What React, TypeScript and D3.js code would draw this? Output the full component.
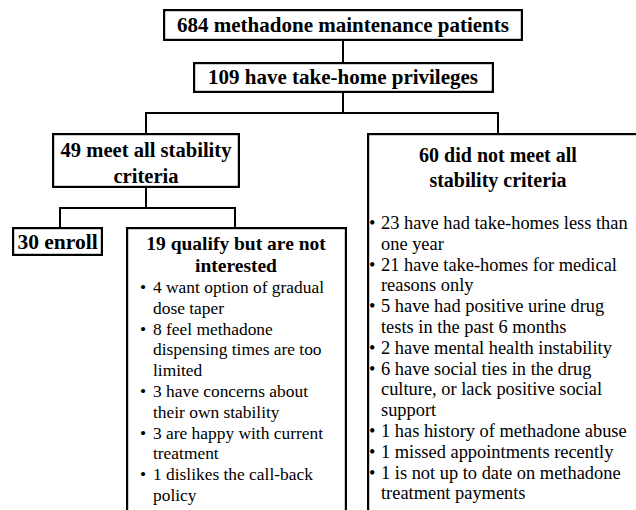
import React from "react";
import * as d3 from "d3";

const topTitle = "684 methadone maintenance patients";
const secondTitle = "109 have take-home privileges";
const meetTitle = ["49 meet all stability", "criteria"];
const enrollTitle = "30 enroll";
const notInterestedTitle = ["19 qualify but are not", "interested"];
const notMeetTitle = ["60 did not meet all", "stability criteria"];

const notInterestedItems: string[][] = [
  ["4 want option of gradual", "dose taper"],
  ["8 feel methadone", "dispensing times are too", "limited"],
  ["3 have concerns about", "their own stability"],
  ["3 are happy with current", "treatment"],
  ["1 dislikes the call-back", "policy"],
];

const notMeetItems: string[][] = [
  ["23 have had take-homes less than", "one year"],
  ["21 have take-homes for medical", "reasons only"],
  ["5 have had positive urine drug", "tests in the past 6 months"],
  ["2 have mental health instability"],
  ["6 have social ties in the drug", "culture, or lack positive social", "support"],
  ["1 has history of methadone abuse"],
  ["1 missed appointments recently"],
  ["1 is not up to date on methadone", "treatment payments"],
];

const W = 636;
const H = 510;
const FONT = '"Liberation Serif"';
const SW = 2.2;

function Box({ x0, y0, x1, y1 }: { x0: number; y0: number; x1: number; y1: number }) {
  return (
    <rect
      x={x0 + SW / 2}
      y={y0 + SW / 2}
      width={x1 - x0 - SW}
      height={y1 - y0 - SW}
      fill="none"
      stroke="#000"
      strokeWidth={SW}
    />
  );
}

function Conn({ pts }: { pts: [number, number][] }) {
  return <path d={d3.line()(pts) as string} fill="none" stroke="#000" strokeWidth={2} />;
}

function Bold({ t, x, y, size }: { t: string; x: number; y: number; size: number }) {
  return (
    <text
      x={x}
      y={y}
      textAnchor="middle"
      style={{ fontFamily: FONT, fontWeight: "bold", fontSize: size + "px" }}
      fill="#000"
    >
      {t}
    </text>
  );
}

function Bullets({
  items,
  bx,
  tx,
  y0,
  lh,
  size,
}: {
  items: string[][];
  bx: number;
  tx: number;
  y0: number;
  lh: number;
  size: number;
}) {
  const out: React.ReactNode[] = [];
  let i = 0;
  items.forEach((item, k) => {
    item.forEach((ln, j) => {
      const y = y0 + lh * i;
      if (j === 0)
        out.push(
          <text key={`b${k}`} x={bx} y={y} style={{ fontFamily: FONT, fontSize: size + "px" }} fill="#000">
            {"\u2022"}
          </text>
        );
      out.push(
        <text key={`t${k}-${j}`} x={tx} y={y} style={{ fontFamily: FONT, fontSize: size + "px" }} fill="#000">
          {ln}
        </text>
      );
      i++;
    });
  });
  return <g>{out}</g>;
}

export default function App() {
  return (
    <svg
      width={W}
      height={H}
      style={{ position: "absolute", left: 0, top: 0, display: "block", background: "#fff" }}
    >
      <rect width={W} height={H} fill="#fff" />
      <Conn pts={[[343, 40], [343, 62]]} />
      <Conn pts={[[343, 92], [343, 113]]} />
      <Conn pts={[[146, 133], [146, 113], [498, 113], [498, 133]]} />
      <Conn pts={[[146, 187], [146, 208]]} />
      <Conn pts={[[60, 227], [60, 208], [235, 208], [235, 227]]} />

      <Box x0={163} y0={9} x1={523} y1={41} />
      <Box x0={193} y0={62} x1={494} y1={93} />
      <Box x0={52} y0={133} x1={240} y1={188} />
      <Box x0={12} y0={227} x1={103} y1={256} />
      <Box x0={126} y0={227} x1={347} y1={H + 10} />
      <Box x0={367} y0={133} x1={W + 10} y1={H + 10} />

      <Bold t={topTitle} x={343} y={32} size={21} />
      <Bold t={secondTitle} x={343} y={84} size={21} />
      {meetTitle.map((t, i) => (
        <Bold key={t} t={t} x={146} y={156.5 + 26 * i} size={20.6} />
      ))}
      <Bold t={enrollTitle} x={57.5} y={248.5} size={21.5} />
      {notInterestedTitle.map((t, i) => (
        <Bold key={t} t={t} x={236} y={250 + 22 * i} size={19.5} />
      ))}
      {notMeetTitle.map((t, i) => (
        <Bold key={t} t={t} x={498} y={162 + 25 * i} size={20} />
      ))}

      <Bullets items={notInterestedItems} bx={140} tx={153} y0={293} lh={20.8} size={17.4} />
      <Bullets items={notMeetItems} bx={369} tx={381} y0={229} lh={20.8} size={18.4} />
    </svg>
  );
}
